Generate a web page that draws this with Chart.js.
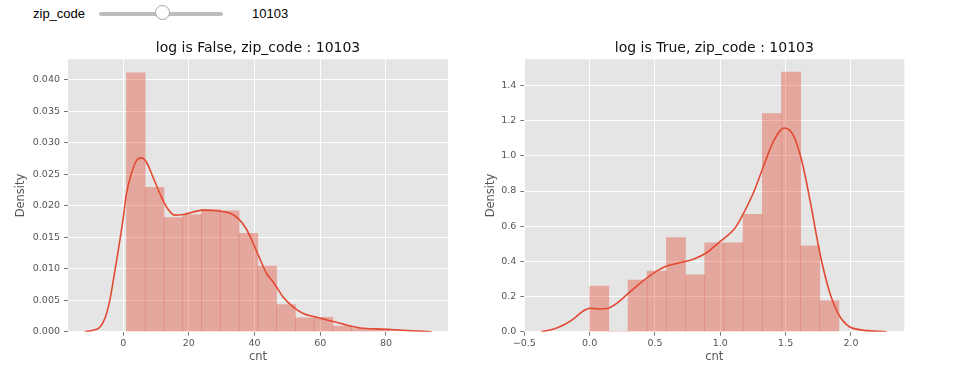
<!DOCTYPE html>
<html>
<head>
<meta charset="utf-8">
<script src="https://cdn.jsdelivr.net/npm/chart.js@4.4.1/dist/chart.umd.min.js"></script>
<style>
  body { margin: 0; width: 973px; height: 377px; background: #fff; position: relative; overflow: hidden; font-family: "Liberation Sans", Arial, sans-serif; }
  #lbl { position: absolute; left: 33px; top: 6px; font-size: 13px; color: #000; }
  #track { position: absolute; left: 99px; top: 12px; width: 124px; height: 4px; background: #bdbdbd; border-radius: 2px; }
  #knob { position: absolute; left: 155px; top: 5px; width: 15px; height: 15px; border-radius: 50%; background: #fff; border: 1px solid #a3a3a3; box-sizing: border-box; }
  #val { position: absolute; left: 252px; top: 6px; font-size: 13px; color: #000; }
  .box { position: absolute; top: 30px; height: 347px; }
  #b1 { left: 0; width: 460px; }
  #b2 { left: 470px; width: 440px; }
</style>
</head>
<body>
<div id="lbl">zip_code</div>
<div id="track"></div>
<div id="knob"></div>
<div id="val">10103</div>
<div class="box" id="b1"><canvas id="c1" width="460" height="347"></canvas></div>
<div class="box" id="b2"><canvas id="c2" width="440" height="347"></canvas></div>
<script>
// raw counts, 14 bins
var linEdges = [1, 6.71, 12.43, 18.14, 23.86, 29.57, 35.29, 41, 46.71, 52.43, 58.14, 63.86, 69.57, 75.29, 81];
var linHist = [0.0411, 0.0229, 0.0181, 0.0186, 0.0194, 0.0192, 0.0156, 0.0104, 0.0043, 0.0022, 0.0023, 0.0009, 0.0005, 0.0005];
var linKdeX = [-11.7, -9.5, -7.1, -5.5, -4.1, -2.8, -1.5, 0, 1.0, 2.5, 4.1, 5.6, 7.1, 9.1, 11.2, 13.2, 15.7, 18.3, 21.3, 24.4, 28.4, 32.5, 35.0, 37.5, 39.6, 41.6, 43.7, 45.2, 46.7, 48.7, 51.8, 54.8, 58.9, 62.9, 67.0, 72.1, 79.2, 86.3, 93.9];
var linKdeY = [0, 0.0002, 0.0007, 0.0022, 0.0049, 0.0088, 0.0129, 0.0180, 0.0219, 0.0251, 0.0272, 0.0276, 0.0269, 0.0245, 0.0219, 0.0198, 0.0185, 0.0186, 0.0190, 0.0193, 0.0192, 0.0188, 0.0180, 0.0163, 0.0140, 0.0116, 0.0092, 0.0082, 0.0071, 0.0055, 0.0039, 0.0029, 0.0023, 0.00175, 0.0012, 0.0006, 0.0004, 0.0002, 0];
var linXTicks = [0, 20, 40, 60, 80];
var linYTicks = [0, 0.005, 0.010, 0.015, 0.020, 0.025, 0.030, 0.035, 0.040];

// log10 counts, 13 bins
var logEdges = [0, 0.147, 0.294, 0.44, 0.587, 0.734, 0.881, 1.027, 1.174, 1.321, 1.468, 1.615, 1.761, 1.908];
var logHist = [0.26, 0, 0.294, 0.345, 0.535, 0.324, 0.506, 0.506, 0.668, 1.241, 1.476, 0.489, 0.175];
var logKdeX = [-0.37, -0.28, -0.2, -0.125, -0.049, 0.002, 0.079, 0.142, 0.207, 0.283, 0.385, 0.487, 0.589, 0.691, 0.793, 0.895, 0.997, 1.1, 1.15, 1.252, 1.329, 1.405, 1.489, 1.558, 1.622, 1.686, 1.762, 1.839, 1.916, 2.017, 2.273];
var logKdeY = [0, 0.014, 0.038, 0.072, 0.118, 0.133, 0.129, 0.133, 0.161, 0.209, 0.275, 0.332, 0.373, 0.392, 0.412, 0.449, 0.512, 0.578, 0.635, 0.787, 0.938, 1.080, 1.158, 1.118, 0.976, 0.749, 0.446, 0.218, 0.085, 0.019, 0];
var logXTicks = [-0.5, 0, 0.5, 1.0, 1.5, 2.0];
var logYTicks = [0, 0.2, 0.4, 0.6, 0.8, 1.0, 1.2, 1.4];

var RED = '#E24A33';
var TICK_FONT = { family: 'DejaVu Sans', size: 9.5 };
var LABEL_FONT = { family: 'DejaVu Sans', size: 11.5 };

var panelBg = {
  id: 'panelBg',
  beforeDraw: function(chart) {
    var a = chart.chartArea, ctx = chart.ctx;
    ctx.save();
    ctx.fillStyle = '#E5E5E5';
    ctx.fillRect(a.left, a.top, a.right - a.left, a.bottom - a.top);
    ctx.restore();
  }
};

function makeChart(id, cfg) {
  var bars = [];
  for (var i = 0; i < cfg.hist.length; i++) {
    bars.push({ x: (cfg.edges[i] + cfg.edges[i + 1]) / 2, y: cfg.hist[i] });
  }
  var kde = cfg.kdeX.map(function(x, i) { return { x: x, y: cfg.kdeY[i] }; });

  return new Chart(document.getElementById(id), {
    data: {
      datasets: [{
        type: 'line',
        data: kde,
        borderColor: RED,
        borderWidth: 1.6,
        pointRadius: 0,
        cubicInterpolationMode: 'monotone',
        fill: false,
        order: 0
      }, {
        type: 'bar',
        data: bars,
        backgroundColor: 'rgba(226,74,51,0.4)',
        borderWidth: 0,
        barPercentage: 1,
        categoryPercentage: 1,
        order: 1
      }]
    },
    options: {
      responsive: false,
      animation: false,
      layout: { padding: { left: 0, right: cfg.padRight, top: 0, bottom: 0 } },
      plugins: {
        legend: { display: false },
        tooltip: { enabled: false },
        title: {
          display: true,
          text: cfg.title,
          fullSize: false,
          color: '#111',
          font: { family: 'DejaVu Sans', size: 14, weight: 'normal' },
          padding: { top: 10, bottom: 2.5 }
        }
      },
      scales: {
        x: {
          type: 'linear',
          offset: false,
          min: cfg.xMin,
          max: cfg.xMax,
          afterBuildTicks: function(s) { s.ticks = cfg.xTicks.map(function(v) { return { value: v }; }); },
          afterFit: function(s) { s.height = 45.3; },
          grid: { offset: false, color: '#fff', lineWidth: 1, tickColor: '#777', tickLength: 4 },
          border: { display: false },
          ticks: { font: TICK_FONT, color: '#555', padding: 2, maxRotation: 0, callback: cfg.xFmt },
          title: { display: true, text: 'cnt', color: '#555', font: LABEL_FONT, padding: { top: 0, bottom: 13.4 } }
        },
        y: {
          min: 0,
          max: cfg.yMax,
          afterBuildTicks: function(s) { s.ticks = cfg.yTicks.map(function(v) { return { value: v }; }); },
          afterFit: function(s) { s.width = cfg.yWidth; },
          grid: { color: '#fff', lineWidth: 1, tickColor: '#777', tickLength: 4 },
          border: { display: false },
          ticks: { font: TICK_FONT, color: '#555', padding: 4, callback: cfg.yFmt },
          title: { display: true, text: 'Density', color: '#555', font: LABEL_FONT, padding: { top: 14.1, bottom: 0 } }
        }
      }
    },
    plugins: [panelBg]
  });
}

makeChart('c1', {
  title: 'log is False, zip_code : 10103',
  edges: linEdges, hist: linHist, kdeX: linKdeX, kdeY: linKdeY,
  xTicks: linXTicks, yTicks: linYTicks,
  xMin: -16.8, xMax: 98.9, yMax: 0.04324,
  yWidth: 68, padRight: 12,
  xFmt: function(v) { return String(v); },
  yFmt: function(v) { return v.toFixed(3); }
});

makeChart('c2', {
  title: 'log is True, zip_code : 10103',
  edges: logEdges, hist: logHist, kdeX: logKdeX, kdeY: logKdeY,
  xTicks: logXTicks, yTicks: logYTicks,
  xMin: -0.5, xMax: 2.408, yMax: 1.549,
  yWidth: 54.3, padRight: 5.7,
  xFmt: function(v) { return v.toFixed(1).replace('-', '\u2212'); },
  yFmt: function(v) { return v.toFixed(1); }
});
</script>
</body>
</html>
